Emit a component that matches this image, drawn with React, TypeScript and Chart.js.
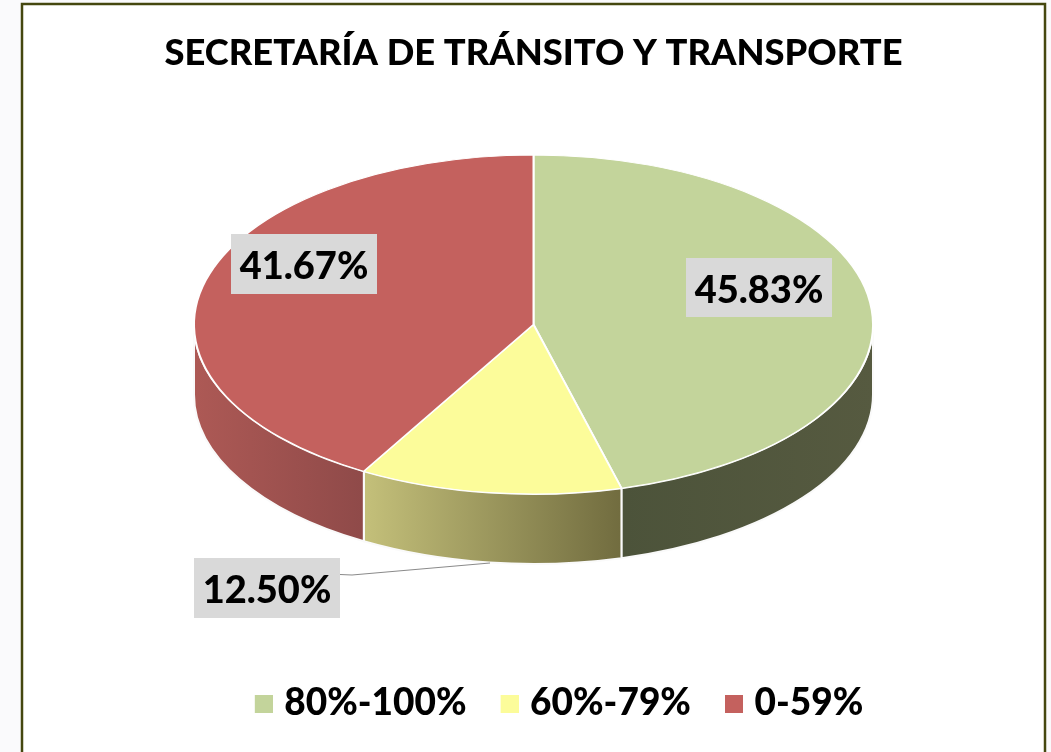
import React, { useEffect, useRef } from "react";
import { Chart, registerables } from "chart.js";

Chart.register(...registerables);

const titleText = "SECRETARÍA DE TRÁNSITO Y TRANSPORTE";
const categories = ["80%-100%", "60%-79%", "0-59%"];
const values = [45.83, 12.5, 41.67];
const sliceColors = ["#c3d49b", "#fcfc9a", "#c4615e"];
const wallStops = [
  ["#4c533a", "#565a40"],
  ["#c4c07a", "#716c3f"],
  ["#ad5955", "#8f4a49"],
];
const labelBoxes = [
  { left: 686, top: 258, width: 146, height: 59 },
  { left: 194, top: 558, width: 146, height: 60 },
  { left: 231, top: 234, width: 146, height: 60 },
];
const FONT = "Lato, Carlito, 'Open Sans', sans-serif";
const CX = 533.5;
const CY = 324.5;
const RX = 339.5;
const RATIO = 0.4993;
const DEPTH = 70;
const LEGEND_SHIFT = 22;

function legendSwatch(color: string) {
  // 18px square in the right part of a 32px wide image: brings it nearer its text
  const c = document.createElement("canvas");
  c.width = 32;
  c.height = 18;
  const g = c.getContext("2d")!;
  g.fillStyle = color;
  g.fillRect(14, 0, 18, 18);
  return c;
}

const stage = {
  id: "stage",
  beforeDraw(chart: any) {
    const { ctx, width, height } = chart;
    ctx.save();
    ctx.fillStyle = "#fafafc";
    ctx.fillRect(0, 0, width, height);
    ctx.fillStyle = "#ffffff";
    ctx.fillRect(22, 4, 1023, height);
    ctx.strokeStyle = "#45470f";
    ctx.lineWidth = 2.5;
    ctx.strokeRect(22, 4, 1023, height + 20);
    ctx.restore();
  },
  afterLayout(chart: any) {
    chart.legend.left += LEGEND_SHIFT;
    chart.legend.right += LEGEND_SHIFT;
  },
  beforeDatasetsDraw(chart: any) {
    const { ctx } = chart;
    const arcs = chart.getDatasetMeta(0).data;
    const ry = RX * RATIO;
    arcs.forEach((arc: any, i: number) => {
      // only the front half of the rim (canvas angles 0..PI) is visible
      const s = Math.max(arc.startAngle, 0);
      const e = Math.min(arc.endAngle, Math.PI);
      if (e <= s) return;
      const x0 = CX + RX * Math.cos(e);
      const x1 = CX + RX * Math.cos(s);
      const g = ctx.createLinearGradient(x0, 0, x1, 0);
      g.addColorStop(0, wallStops[i][0]);
      g.addColorStop(1, wallStops[i][1]);
      ctx.save();
      ctx.beginPath();
      ctx.ellipse(CX, CY, RX, ry, 0, s, e, false);
      ctx.ellipse(CX, CY + DEPTH, RX, ry, 0, e, s, true);
      ctx.closePath();
      ctx.fillStyle = g;
      ctx.fill();
      ctx.strokeStyle = "#fafafa";
      ctx.lineWidth = 2;
      ctx.stroke();
      ctx.restore();
    });
    const a = arcs[0];
    ctx.save();
    ctx.translate(CX, CY);
    ctx.scale(1, RATIO);
    ctx.translate(-a.x, -a.y);
  },
  afterDatasetsDraw(chart: any) {
    const { ctx } = chart;
    ctx.restore();
    ctx.save();
    ctx.strokeStyle = "#8a8a8a";
    ctx.lineWidth = 1;
    ctx.beginPath();
    ctx.moveTo(340, 574.5);
    ctx.lineTo(352, 575);
    ctx.lineTo(490, 563);
    ctx.stroke();
    ctx.font = `900 38px ${FONT}`;
    ctx.textAlign = "center";
    ctx.textBaseline = "middle";
    values.forEach((v, i) => {
      const b = labelBoxes[i];
      ctx.fillStyle = "#d9d9d9";
      ctx.fillRect(b.left, b.top, b.width, b.height);
      ctx.fillStyle = "#000000";
      ctx.fillText(`${v.toFixed(2)}%`, b.left + b.width / 2, b.top + b.height / 2 + 3);
    });
    ctx.restore();
  },
};

export default function App() {
  const ref = useRef<HTMLCanvasElement>(null);
  useEffect(() => {
    document.body.style.margin = "0";
    document.body.style.overflow = "hidden";
    const chart = new Chart(ref.current!, {
      type: "pie",
      data: {
        labels: categories,
        datasets: [
          {
            data: values,
            backgroundColor: sliceColors,
            borderColor: "#ffffff",
            borderWidth: 2,
            clip: false,
          } as any,
        ],
      },
      options: {
        animation: false,
        responsive: false,
        radius: RX,
        layout: { padding: { left: 16, right: 0, top: 0, bottom: 20 } },
        plugins: {
          title: {
            display: true,
            text: titleText,
            color: "#000000",
            font: { family: FONT, size: 36.3, weight: "900", lineHeight: 1.2 },
            padding: { top: 32, bottom: 10 },
          },
          legend: {
            position: "bottom",
            labels: {
              color: "#000000",
              boxWidth: 18,
              boxHeight: 18,
              padding: 27,
              usePointStyle: true,
              font: { family: FONT, size: 37, weight: "900" },
              generateLabels: () =>
                categories.map((text, i) => ({
                  text,
                  index: i,
                  datasetIndex: 0,
                  fontColor: "#000000",
                  fillStyle: sliceColors[i],
                  strokeStyle: sliceColors[i],
                  lineWidth: 0,
                  hidden: false,
                  pointStyle: legendSwatch(sliceColors[i]),
                })),
            },
          },
          tooltip: { enabled: false },
        },
      } as any,
      plugins: [stage],
    });
    return () => chart.destroy();
  }, []);
  return <canvas ref={ref} width={1051} height={752} style={{ display: "block" }} />;
}
